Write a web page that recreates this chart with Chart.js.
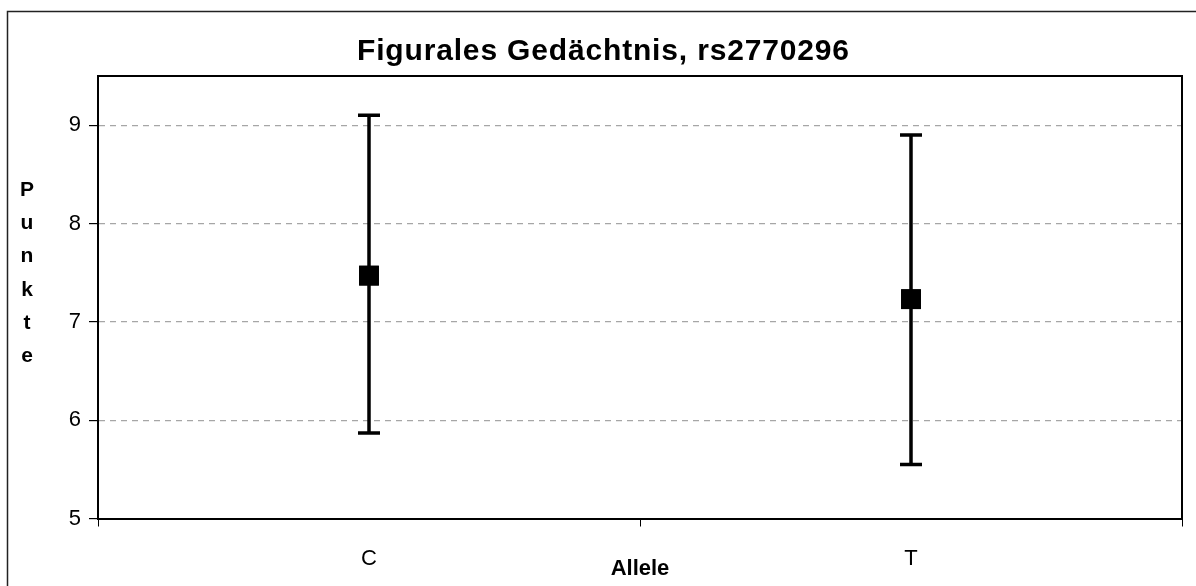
<!DOCTYPE html>
<html>
<head>
<meta charset="utf-8">
<script src="https://cdn.jsdelivr.net/npm/chart.js@4/dist/chart.umd.min.js"></script>
<style>
  html, body { margin:0; padding:0; background:#fff; }
  #wrap { width:1196px; height:586px; position:relative; }
</style>
</head>
<body>
<div id="wrap"><canvas id="c"></canvas></div>
<script>
// Daten
const allele = ['C', 'T'];
const mittel = [7.47, 7.23];
const oben   = [9.10, 8.90];
const unten  = [5.87, 5.55];
const yMin = 5, yMax = 9.5, yStep = 1;

const FONT = "'Liberation Sans', Arial, sans-serif";
const TITEL = 'Figurales Gedächtnis, rs2770296';

// Rahmen, Titel, Fehlerbalken und Achsentitel
const extras = {
  id: 'extras',
  beforeDraw(chart){
    const ctx = chart.ctx;
    ctx.save();
    ctx.strokeStyle = '#222';
    ctx.lineWidth = 1.5;
    ctx.strokeRect(7.5, 11.5, 1400, 800);
    ctx.restore();
  },
  afterDraw(chart){
    const {ctx, chartArea:a} = chart;
    ctx.save();
    // Plotbox oben / rechts
    ctx.strokeStyle = '#000';
    ctx.lineWidth = 2;
    ctx.beginPath();
    ctx.moveTo(a.left, a.top); ctx.lineTo(a.right, a.top); ctx.lineTo(a.right, a.bottom);
    ctx.stroke();
    ctx.fillStyle = '#000';
    // Titel
    ctx.font = 'bold 30px ' + FONT;
    ctx.textAlign = 'center';
    ctx.textBaseline = 'alphabetic';
    const w = ctx.measureText(TITEL).width;
    const sp = Math.max(0, (492 - w) / (TITEL.length - 1));
    ctx.letterSpacing = sp + 'px';
    ctx.fillText(TITEL, 603 + sp/2, 60);
    ctx.letterSpacing = '0px';
    // Achsentitel
    ctx.font = 'bold 21px ' + FONT;
    ctx.textBaseline = 'middle';
    'Punkte'.split('').forEach((ch, i) => ctx.fillText(ch, 27, 190 + i*33.3));
    ctx.font = 'bold 22px ' + FONT;
    ctx.fillText('Allele', (a.left + a.right)/2, 569);
    ctx.restore();
  },
  afterDatasetsDraw(chart){
    const {ctx, scales:{x, y}} = chart;
    ctx.save();
    ctx.strokeStyle = '#000';
    ctx.lineWidth = 3.5;
    allele.forEach((lab, i) => {
      const px = x.getPixelForValue(i);
      const yt = y.getPixelForValue(oben[i]);
      const yb = y.getPixelForValue(unten[i]);
      ctx.beginPath();
      ctx.moveTo(px, yt); ctx.lineTo(px, yb);
      ctx.moveTo(px - 11, yt); ctx.lineTo(px + 11, yt);
      ctx.moveTo(px - 11, yb); ctx.lineTo(px + 11, yb);
      ctx.stroke();
    });
    ctx.restore();
    // Marker über den Balken
    chart.getDatasetMeta(0).data.forEach(p => p.draw(ctx, chart.chartArea));
  }
};

new Chart(document.getElementById('c'), {
  type: 'line',
  data: {
    labels: allele,
    datasets: [{
      data: mittel,
      showLine: false,
      pointStyle: 'rect',
      pointRadius: 14,
      pointBackgroundColor: '#000',
      pointBorderColor: '#000',
      pointBorderWidth: 0
    }]
  },
  options: {
    responsive: true,
    maintainAspectRatio: false,
    animation: false,
    layout: { padding: { left: 0, right: 13, top: 76, bottom: 0 } },
    plugins: {
      legend: { display: false },
      tooltip: { enabled: false },
      title: { display: false }
    },
    scales: {
      x: {
        type: 'category',
        offset: true,
        afterFit(s){ s.height = 67.5; },
        grid: { offset: true, drawOnChartArea: false, drawTicks: true, tickLength: 8, tickColor: '#000', color: '#000' },
        border: { color: '#000', width: 2 },
        ticks: { color: '#000', font: { family: FONT, size: 22 }, padding: 19 }
      },
      y: {
        min: yMin, max: yMax,
        afterFit(s){ s.width = 98; },
        grid: {
          color: (c) => c.tick && c.tick.value === yMin ? 'rgba(0,0,0,0)' : '#a6a6a6',
          lineWidth: 1.2,
          tickColor: '#000',
          tickLength: 9
        },
        border: { color: '#000', width: 2, dash: [6, 5] },
        ticks: { stepSize: yStep, includeBounds: false, color: '#000', font: { family: FONT, size: 22 }, padding: 8 }
      }
    }
  },
  plugins: [extras]
});
</script>
</body>
</html>
